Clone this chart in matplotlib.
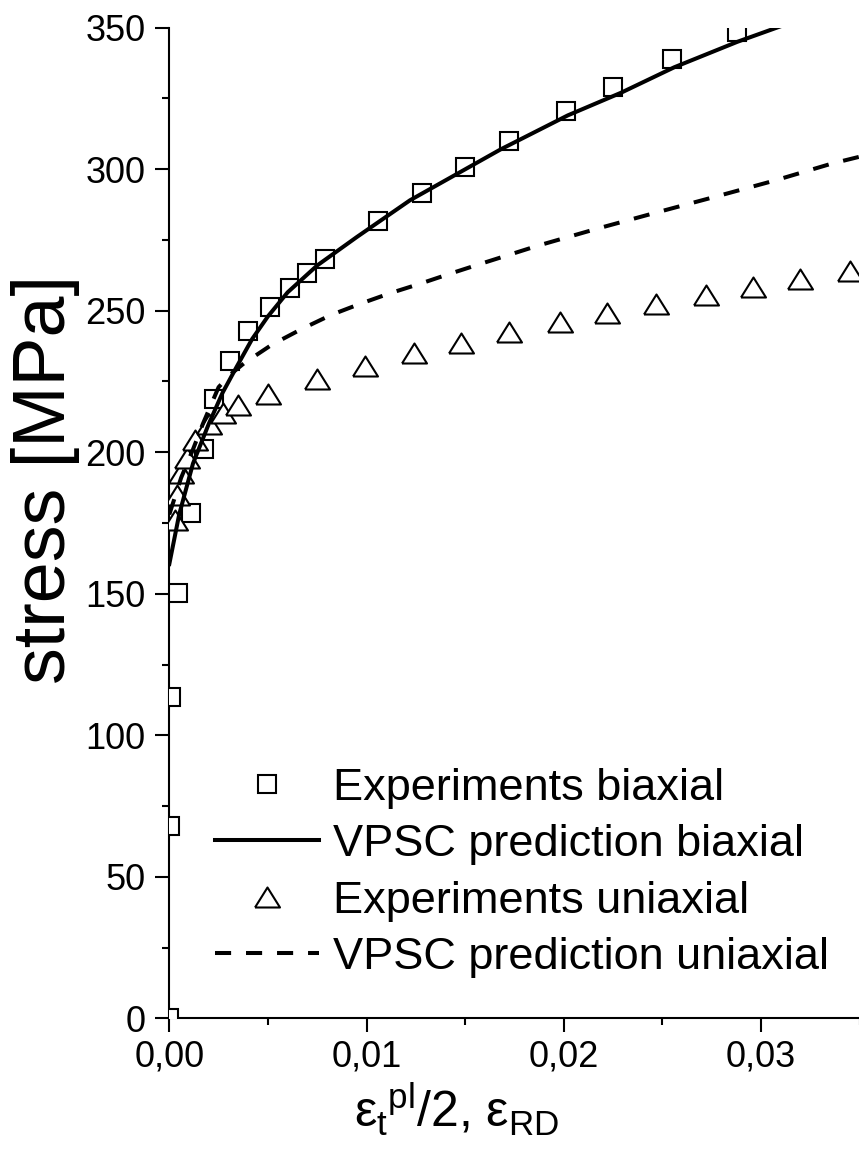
import matplotlib
matplotlib.use('Agg')
import matplotlib.pyplot as plt
from matplotlib.ticker import FixedLocator, FixedFormatter, MultipleLocator

plt.rcParams['font.family'] = ['Liberation Sans', 'DejaVu Sans']
plt.rcParams['mathtext.fontset'] = 'custom'
plt.rcParams['mathtext.rm'] = 'Liberation Sans'
plt.rcParams['mathtext.it'] = 'Liberation Sans'
plt.rcParams['mathtext.bf'] = 'Liberation Sans:bold'

# biaxial experiments (squares)
bi_exp_x = [0.0, 0.00005, 0.0001, 0.00043, 0.0011, 0.00175, 0.00225, 0.0031, 0.0040,
            0.0051, 0.0061, 0.0070, 0.0079, 0.0106, 0.0128, 0.0150, 0.0172, 0.0201,
            0.0225, 0.0255, 0.0288]
bi_exp_y = [0, 68, 113.5, 150.2, 178.7, 201.3, 218.8, 232.1, 242.7,
            251.2, 258, 263.3, 268.2, 281.7, 291.6, 300.8, 310, 320.5,
            329, 339, 348.5]

# VPSC biaxial (solid)
bi_vpsc_x = [0, 0.0005, 0.0012, 0.0020, 0.0027, 0.0034, 0.0042, 0.0050, 0.0060,
             0.0075, 0.0095, 0.0122, 0.0145, 0.0168, 0.0202, 0.0229, 0.0256,
             0.0288, 0.0320]
bi_vpsc_y = [160.5, 178, 196, 210, 221, 230, 240, 248, 256.5,
             266, 276, 289, 298, 307, 319, 327, 336,
             345, 353]

# uniaxial experiments (triangles)
uni_exp_x = [0.0003, 0.0004, 0.0006, 0.0009, 0.0013, 0.0020, 0.0027, 0.0035, 0.0050,
             0.0075, 0.0099, 0.0124, 0.0148, 0.0172, 0.0198, 0.0222, 0.0247,
             0.0272, 0.0296, 0.0320, 0.0345]
uni_exp_y = [176, 185, 192.5, 198, 204.5, 210, 214, 216.6, 220.6,
             225.8, 230.4, 235, 238.5, 242.4, 246, 249.1, 252.3,
             255.5, 258.3, 261.1, 264]

# VPSC uniaxial (dashed)
uni_vpsc_x = [0, 0.0006, 0.0012, 0.0017, 0.0025, 0.0031, 0.0038, 0.0052, 0.0067,
              0.0082, 0.0097, 0.0112, 0.0127, 0.0142, 0.0158, 0.0187, 0.0217,
              0.0247, 0.0277, 0.0307, 0.0336, 0.0350]
uni_vpsc_y = [178, 191, 201, 210, 223, 227.5, 231.5, 238, 243.5,
              248.5, 252.5, 256.2, 259.5, 263, 266.6, 273, 279,
              284.7, 290.3, 296, 302, 304.4]

x_ticks = [0.0, 0.01, 0.02, 0.03]
x_ticklabels = ['0,00', '0,01', '0,02', '0,03']
y_ticks = [0, 50, 100, 150, 200, 250, 300, 350]
y_ticklabels = ['0', '50', '100', '150', '200', '250', '300', '350']

fig = plt.figure(figsize=(8.59, 11.53), dpi=100)
ax = fig.add_axes([0.1971, 0.1168, 0.8036, 0.8592])

tri = [(-1, -0.8), (1, -0.8), (0, 0.8), (-1, -0.8)]

ax.plot(bi_exp_x, bi_exp_y, ls='none', marker='s', ms=13, mfc='white', mec='black',
        mew=1.5, label='Experiments biaxial', zorder=3)
ax.plot(bi_vpsc_x, bi_vpsc_y, color='black', lw=2.9, label='VPSC prediction biaxial',
        zorder=4)
ax.plot(uni_exp_x, uni_exp_y, ls='none', marker=tri, ms=18, mfc='white', mec='black',
        mew=1.5, label='Experiments uniaxial', zorder=3)
ax.plot(uni_vpsc_x, uni_vpsc_y, color='black', lw=2.9, dashes=(4, 3.7),
        label='VPSC prediction uniaxial', zorder=4)

ax.set_xlim(0, 0.035)
ax.set_ylim(0, 350)

ax.xaxis.set_major_locator(FixedLocator(x_ticks))
ax.xaxis.set_major_formatter(FixedFormatter(x_ticklabels))
ax.yaxis.set_major_locator(FixedLocator(y_ticks))
ax.yaxis.set_major_formatter(FixedFormatter(y_ticklabels))
ax.xaxis.set_minor_locator(MultipleLocator(0.005))
ax.yaxis.set_minor_locator(MultipleLocator(25))

for s in ['top', 'right']:
    ax.spines[s].set_visible(False)
for s in ['left', 'bottom']:
    ax.spines[s].set_linewidth(1.5)

ax.tick_params(which='major', direction='out', length=10, width=1.5, labelsize=26, pad=7)
ax.tick_params(axis='x', which='major', pad=5)
ax.tick_params(which='minor', direction='out', length=5, width=1.5)

ax.set_ylabel('stress [MPa]', fontsize=53)
ax.yaxis.set_label_coords(-0.13, 0.544)
ax.set_xlabel(r'$\varepsilon_t{}^{pl}$/2, $\varepsilon_{RD}$', fontsize=36)
ax.xaxis.set_label_coords(0.416, -0.062)

leg = ax.legend(loc='upper left', bbox_to_anchor=(0.25, 0.334),
                bbox_transform=fig.transFigure, frameon=False, fontsize=32.5,
                borderaxespad=0, borderpad=0, handlelength=2.3, handletextpad=0.33,
                labelspacing=0.34)

fig.savefig('out.png', dpi=100)
